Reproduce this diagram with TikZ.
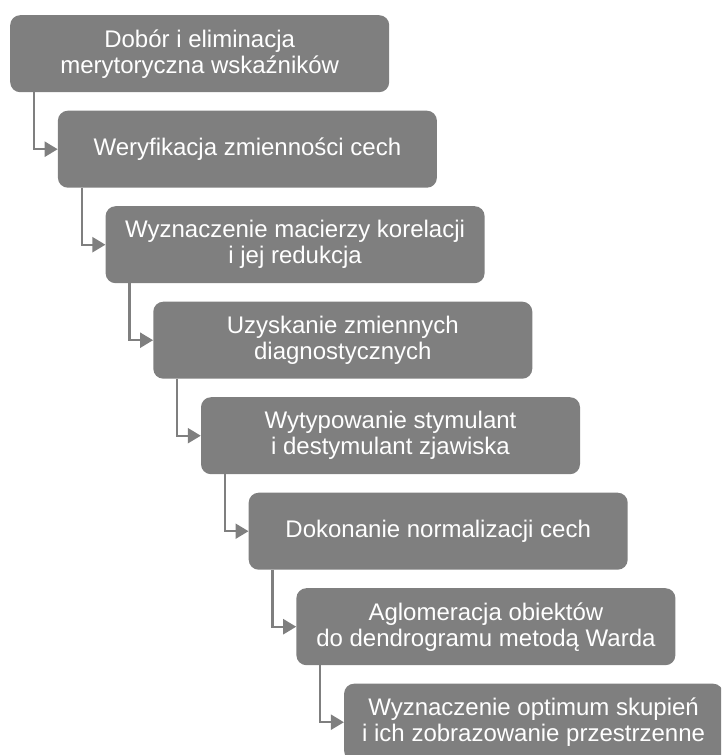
\documentclass[tikz,border=0pt]{standalone}
\usepackage{fontspec}
\setmainfont{Liberation Sans}
\usetikzlibrary{arrows.meta}
\definecolor{boxgray}{HTML}{7F7F7F}
\tikzset{
  stepbox/.style={rectangle, rounded corners=10pt, fill=boxgray, text=white,
    minimum width=379pt, minimum height=77pt, inner sep=0pt, align=center,
    anchor=north west, font=\fontsize{24}{26}\selectfont},
  conn/.style={draw=boxgray, line width=2.2pt, -{Triangle[length=13pt,width=15pt]}}
}
\begin{document}
\begin{tikzpicture}[x=1pt,y=-1pt]
\useasboundingbox (0,0) rectangle (721,755);
\clip (0,0) rectangle (721,755);
\node[stepbox] (b1) at (10,15) {Dobór i eliminacja\\merytoryczna wskaźników};
\node[stepbox] (b2) at (57.7,110.5) {Weryfikacja zmienności cech};
\node[stepbox] (b3) at (105.4,206) {Wyznaczenie macierzy korelacji\\i jej redukcja};
\node[stepbox] (b4) at (153.1,301.5) {Uzyskanie zmiennych\\diagnostycznych};
\node[stepbox] (b5) at (200.8,397) {Wytypowanie stymulant\\i destymulant zjawiska};
\node[stepbox] (b6) at (248.5,492.5) {Dokonanie normalizacji cech};
\node[stepbox] (b7) at (296.2,588) {Aglomeracja obiektów\\do dendrogramu metodą Warda};
\node[stepbox] (b8) at (343.9,683.5) {Wyznaczenie optimum skupień\\i ich zobrazowanie przestrzenne};
\foreach \a/\b in {b1/b2,b2/b3,b3/b4,b4/b5,b5/b6,b6/b7,b7/b8}
  \draw[conn] ([xshift=24pt]\a.south west) |- (\b.west);
\end{tikzpicture}
\end{document}
